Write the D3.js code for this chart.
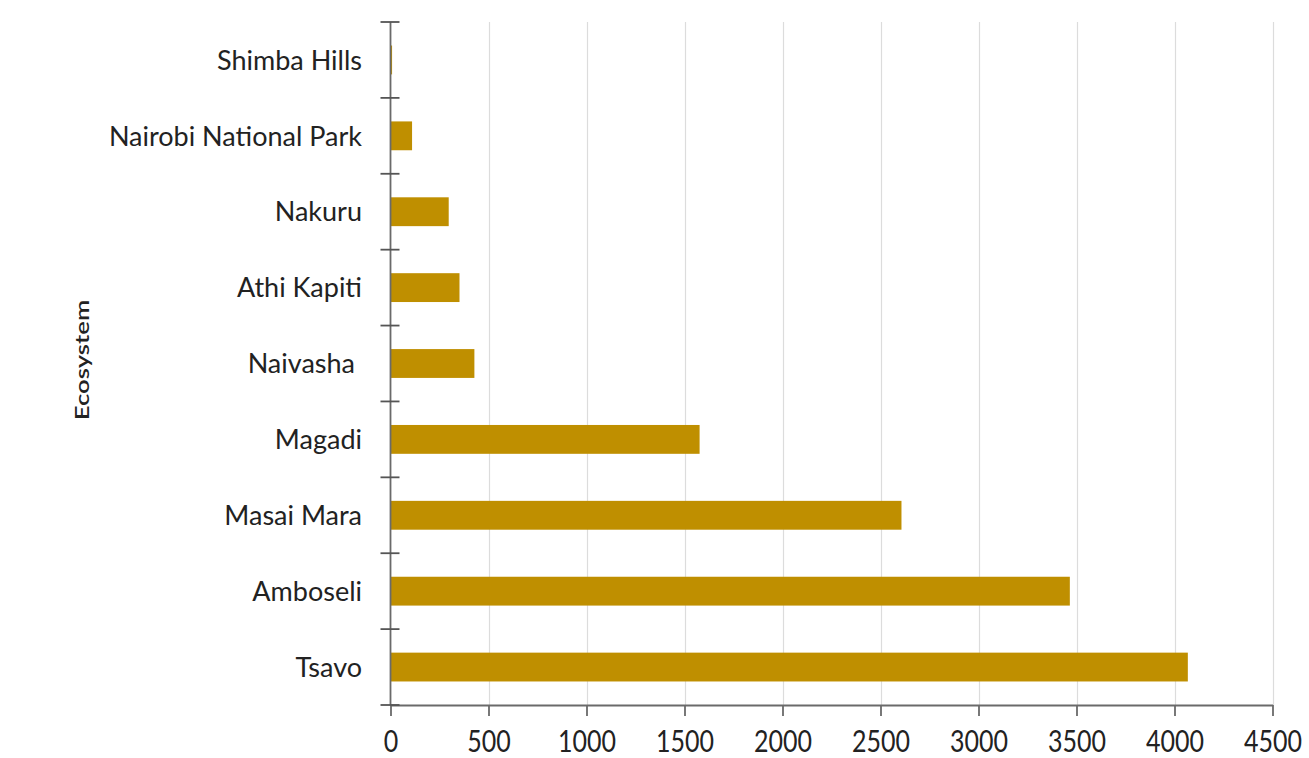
<!DOCTYPE html>
<html>
<head>
<meta charset="utf-8">
<script src="https://cdn.jsdelivr.net/npm/d3@7"></script>
<style>
  html, body { margin: 0; padding: 0; background: #fff; }
  svg { display: block; }
  text { font-family: Lato, "Open Sans", sans-serif; fill: #222; }
</style>
</head>
<body>
<svg id="chart" width="1309" height="758"></svg>
<script>
const categories = ["Shimba Hills", "Nairobi National Park", "Nakuru", "Athi Kapiti", "Naivasha", "Magadi", "Masai Mara", "Amboseli", "Tsavo"];
const values = [8, 110, 297, 352, 428, 1577, 2607, 3466, 4068];
const xTicks = [0, 500, 1000, 1500, 2000, 2500, 3000, 3500, 4000, 4500];
const yTitle = "Ecosystem";

(function () {
const svg = d3.select("#chart");
const mLeft = 390.5, mRight = 1272.5, mTop = 22, mBottom = 705;

const x = d3.scaleLinear().domain([0, 4500]).range([mLeft, mRight]);
const y = d3.scaleBand().domain(categories).range([mTop, mBottom]).paddingInner(0.62).paddingOuter(0.31);
const yEdges = d3.scaleBand().domain(categories).range([mTop, mBottom]).padding(0);

// gridlines
svg.append("g").selectAll("line").data(xTicks.filter(d => d > 0)).join("line")
  .attr("x1", d => Math.round(x(d)) + 0.5).attr("x2", d => Math.round(x(d)) + 0.5)
  .attr("y1", mTop).attr("y2", mBottom)
  .attr("stroke", "#dcdcdc").attr("stroke-width", 1.2);

// bars
svg.append("g").selectAll("rect").data(categories).join("rect")
  .attr("x", x(0))
  .attr("y", d => y(d))
  .attr("height", y.bandwidth())
  .attr("width", (d, i) => x(values[i]) - x(0))
  .attr("fill", "#BF8F00");

// x axis
const xAxis = d3.axisBottom(x).tickValues(xTicks).tickFormat(d3.format("d")).tickSize(11).tickSizeOuter(0);
const gx = svg.append("g").attr("transform", `translate(0,${mBottom})`).call(xAxis);
gx.select(".domain").attr("stroke", "#6a6a6a").attr("stroke-width", 1.8);
gx.selectAll(".tick line").attr("stroke", "#6a6a6a").attr("stroke-width", 1.8);
gx.selectAll(".tick text")
  .attr("font-size", 25).attr("fill", "#222").attr("font-family", "Lato, 'Open Sans', sans-serif")
  .attr("y", 0).attr("dy", 0)
  .attr("transform", "translate(0,47) scale(1,1.22)");

// y axis line
svg.append("line").attr("x1", mLeft).attr("x2", mLeft).attr("y1", mTop).attr("y2", mBottom)
  .attr("stroke", "#6a6a6a").attr("stroke-width", 1.8);
// y ticks at band edges
const edges = categories.map(c => yEdges(c)).concat([mBottom]);
svg.append("g").selectAll("line").data(edges).join("line")
  .attr("x1", mLeft - 10).attr("x2", mLeft + 9)
  .attr("y1", d => d).attr("y2", d => d)
  .attr("stroke", "#555").attr("stroke-width", 1.8);

// y labels
svg.append("g").selectAll("text").data(categories).join("text")
  .attr("x", d => d === "Naivasha" ? 355 : 362)
  .attr("y", d => yEdges(d) + yEdges.bandwidth() / 2)
  .attr("dy", "0.36em")
  .attr("text-anchor", "end")
  .attr("font-size", 27)
  .text(d => d);

// y title
svg.append("text")
  .attr("transform", `translate(82,360) rotate(-90) scale(1.35,1)`)
  .attr("text-anchor", "middle")
  .attr("dy", "0.36em")
  .attr("font-size", 19)
  .attr("font-weight", 600)
  .text(yTitle);
})();
</script>
</body>
</html>
